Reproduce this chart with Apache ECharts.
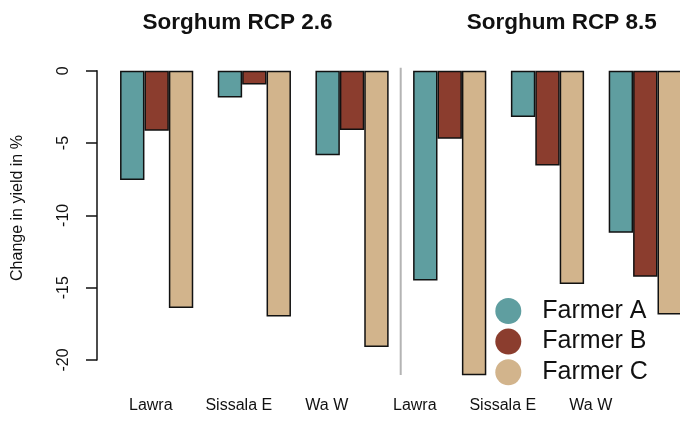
<!DOCTYPE html>
<html lang="en">
    <head>
        <meta charset="UTF-8" />
        <title>Sorghum yield change</title>
        <script src="https://cdn.jsdelivr.net/npm/echarts@6/dist/echarts.min.js"></script>
        <style>
            html,
            body {
                margin: 0;
                padding: 0;
                overflow: hidden;
            }

            /* the last bars run past the right edge in the original, so the canvas is a bit wider than the window */
            #chart {
                width: 700px;
                height: 421px;
            }
        </style>
    </head>
    <body>
        <div id="chart"></div>
        <script>
            let districts = ['Lawra', 'Sissala E', 'Wa W'];
            let farmers = ['Farmer A', 'Farmer B', 'Farmer C'];
            let titles = ['Sorghum RCP 2.6', 'Sorghum RCP 8.5'];
            let yTicks = [0, -5, -10, -15, -20];

            // change in yield in %, per district (Lawra, Sissala E, Wa W)
            let rcp26A = [-7.55, -1.85, -5.85];
            let rcp26B = [-4.15, -0.95, -4.1];
            let rcp26C = [-16.4, -17.0, -19.1];
            let rcp85A = [-14.5, -3.2, -11.2];
            let rcp85B = [-4.7, -6.55, -14.25];
            let rcp85C = [-21.05, -14.75, -16.85];

            let colors = ['#5F9EA0', '#8B3D2E', '#D2B48C'];
            let font = 'Liberation Sans, Arial, sans-serif';

            let panels = [
                [rcp26A, rcp26B, rcp26C],
                [rcp85A, rcp85B, rcp85C]
            ];

            let series = [];
            panels.forEach((panel, p) => {
                panel.forEach((values, i) => {
                    series.push({
                        type: 'bar',
                        name: farmers[i],
                        xAxisIndex: p,
                        yAxisIndex: p,
                        data: values,
                        barWidth: 24.4,
                        barGap: '0%',
                        clip: false,
                        silent: true,
                        itemStyle: {
                            color: colors[i],
                            borderColor: '#111',
                            borderWidth: 1.5
                        }
                    });
                });
            });

            // label row: the district names sit evenly spaced under both panels
            let labelRow = districts.concat(districts);

            let hiddenY = {
                type: 'value',
                min: -20,
                max: 0,
                show: false
            };

            let option = {
                animation: false,
                backgroundColor: '#fff',
                color: colors,
                title: [
                    {
                        text: titles[0],
                        left: 232.5,
                        top: 6,
                        textAlign: 'center',
                        textStyle: { fontFamily: font, fontSize: 22.5, fontWeight: 'bold', color: '#111' }
                    },
                    {
                        text: titles[1],
                        left: 556.7,
                        top: 6,
                        textAlign: 'center',
                        textStyle: { fontFamily: font, fontSize: 22.5, fontWeight: 'bold', color: '#111' }
                    }
                ],
                legend: {
                    orient: 'vertical',
                    left: 490.3,
                    top: 293,
                    icon: 'circle',
                    itemWidth: 58,
                    itemHeight: 26,
                    itemGap: 4.6,
                    selectedMode: false,
                    data: farmers,
                    itemStyle: { borderWidth: 0 },
                    textStyle: { fontFamily: font, fontSize: 25, color: '#111' }
                },
                grid: [
                    { left: 107.8, width: 293.1, top: 70.7, height: 289.3 },
                    { left: 400.8, width: 293.4, top: 70.7, height: 289.3 },
                    { left: 106.8, width: 528, top: 380, height: 10 }
                ],
                xAxis: [
                    { type: 'category', gridIndex: 0, data: districts, show: false },
                    { type: 'category', gridIndex: 1, data: districts, show: false },
                    {
                        type: 'category',
                        gridIndex: 2,
                        data: labelRow,
                        axisLine: { show: false },
                        axisTick: { show: false },
                        axisLabel: { fontFamily: font, fontSize: 16, color: '#111', margin: 8 }
                    }
                ],
                yAxis: [
                    {
                        type: 'value',
                        gridIndex: 0,
                        min: -20,
                        max: 0,
                        interval: 5,
                        offset: 10.8,
                        splitLine: { show: false },
                        axisLine: { show: true, lineStyle: { color: '#111', width: 1.5 } },
                        axisTick: { show: true, length: 11, lineStyle: { color: '#111', width: 1.5 } },
                        axisLabel: {
                            fontFamily: font,
                            fontSize: 16,
                            color: '#111',
                            rotate: 90,
                            margin: 25,
                            formatter: (v) => (yTicks.indexOf(v) >= 0 ? String(v) : '')
                        }
                    },
                    Object.assign({ gridIndex: 1 }, hiddenY),
                    Object.assign({ gridIndex: 2 }, hiddenY)
                ],
                graphic: [
                    {
                        type: 'line',
                        shape: { x1: 400.7, y1: 67.7, x2: 400.7, y2: 375 },
                        style: { stroke: '#b4b4b4', lineWidth: 2 },
                        silent: true
                    },
                    {
                        type: 'text',
                        x: 17.5,
                        y: 208,
                        rotation: Math.PI / 2,
                        style: {
                            text: 'Change in yield in %',
                            fontFamily: font,
                            fontSize: 16,
                            fill: '#111',
                            align: 'center',
                            verticalAlign: 'middle'
                        },
                        silent: true
                    }
                ],
                series: series
            };

            let myChart = echarts.init(document.getElementById('chart'));
            myChart.setOption(option);
        </script>
    </body>
</html>
